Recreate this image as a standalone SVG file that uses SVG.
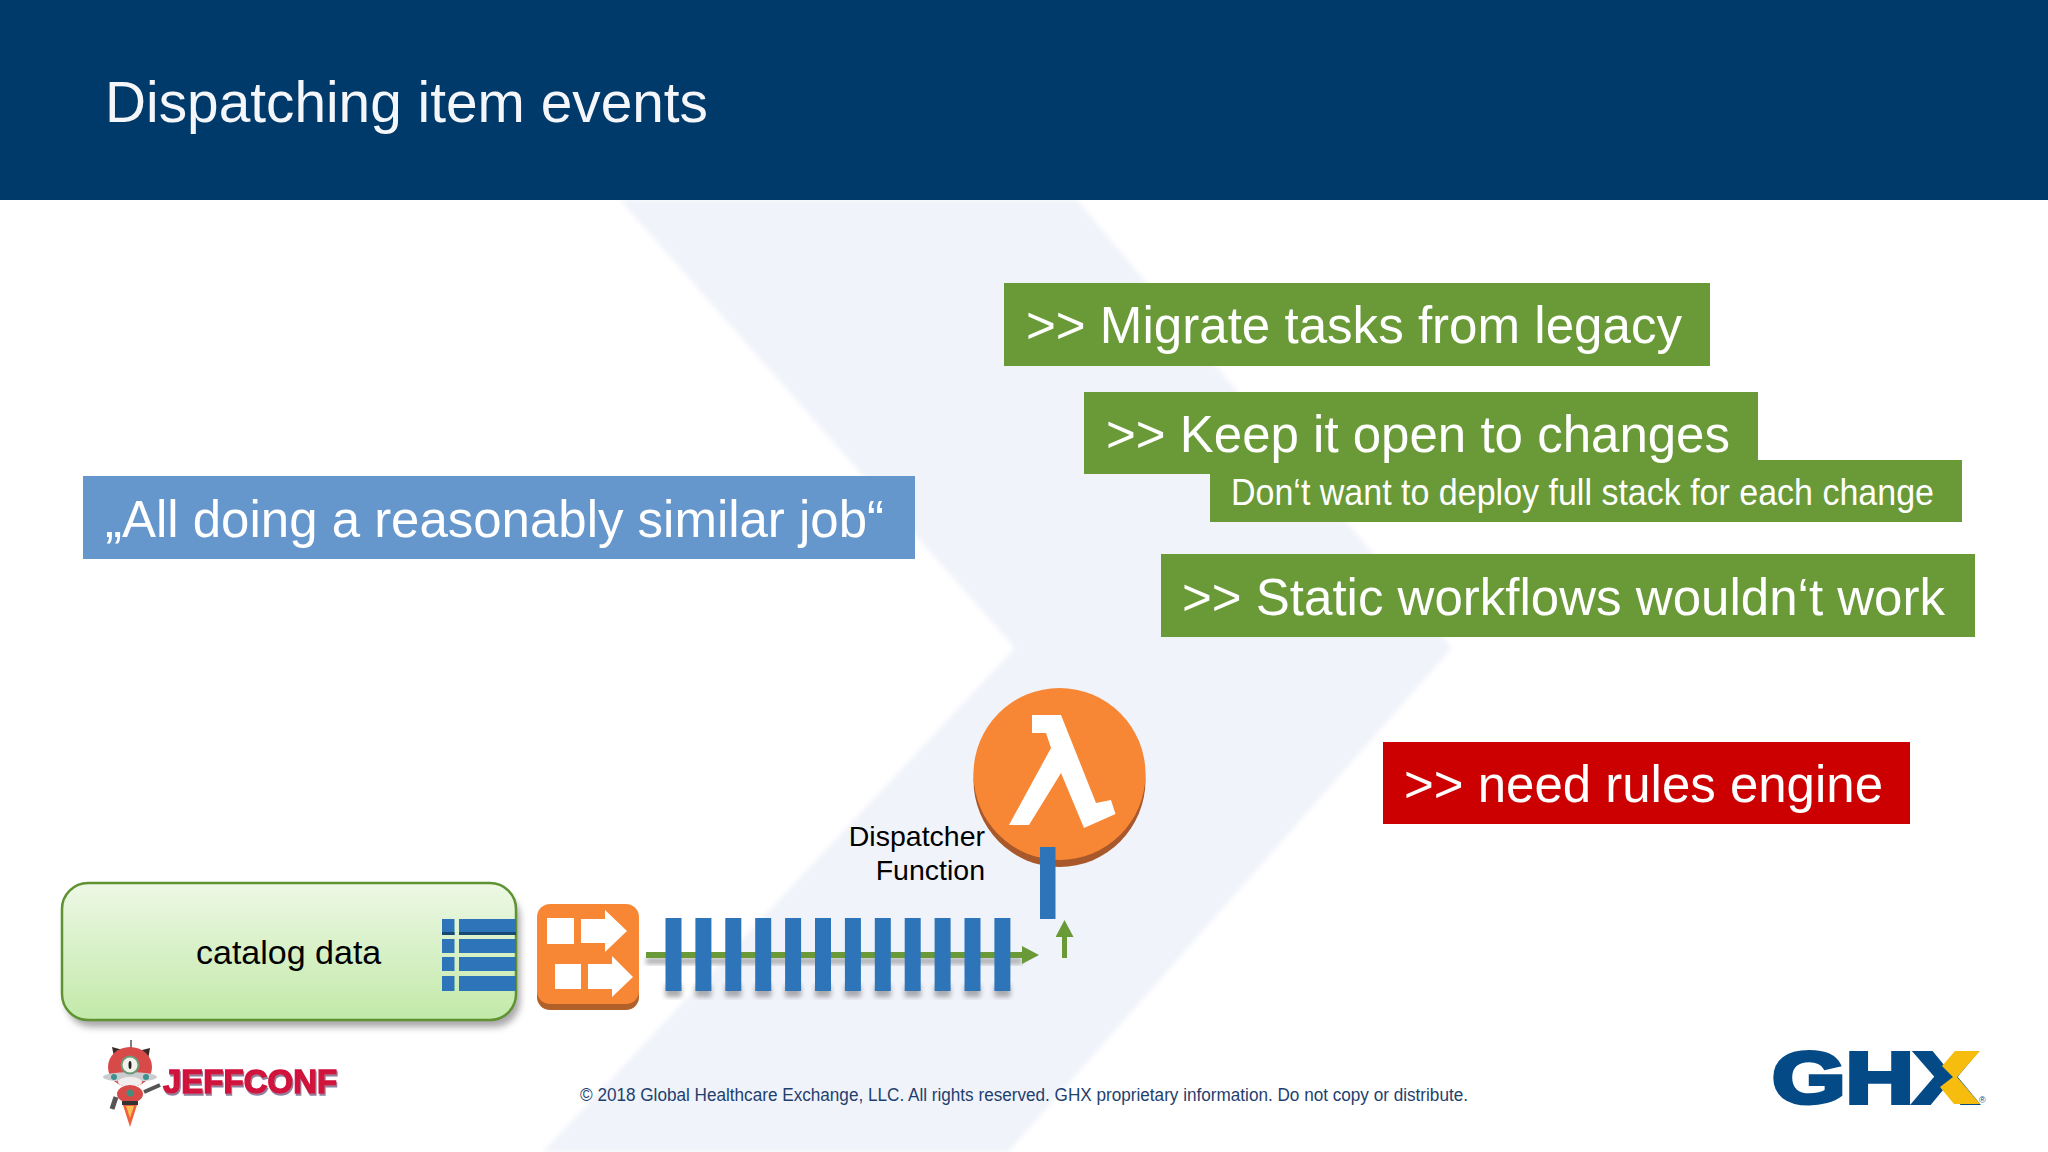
<svg xmlns="http://www.w3.org/2000/svg" width="2048" height="1152" viewBox="0 0 2048 1152">
<defs>
<style>
text{font-family:"Liberation Sans",Arial,sans-serif}
.big{font-size:52px;fill:#fff}
.bar{fill:#2e74b9}
.sh{fill:#a9a9ad;filter:url(#b3)}
.wh{fill:#fff}
.green{fill:#699a37}
.tb{fill:#2e74b9}
</style>
<filter id="b1" x="-5%" y="-5%" width="110%" height="110%"><feGaussianBlur stdDeviation="2.5"/></filter>
<filter id="b3" x="-50%" y="-20%" width="200%" height="140%"><feGaussianBlur stdDeviation="2.5"/></filter>
<filter id="b4" x="-5%" y="-10%" width="110%" height="120%"><feGaussianBlur stdDeviation="3.5"/></filter>
<filter id="jc" x="-5%" y="-20%" width="110%" height="150%"><feDropShadow dx="1" dy="2" stdDeviation="0.4" flood-color="#8f7f9f"/></filter>
<linearGradient id="cat" x1="0" y1="0" x2="0" y2="1"><stop offset="0" stop-color="#edf8e5"/><stop offset="1" stop-color="#c2e9a9"/></linearGradient>
<marker id="ah" markerUnits="userSpaceOnUse" markerWidth="18" markerHeight="18" refX="0" refY="9" orient="auto"><polygon points="0,0 17,9 0,18" fill="#699a37"/></marker>
</defs>
<rect width="2048" height="1152" fill="#fff"/>
<path id="chevron" d="M620,200 L1077,200 L1452,648 L1008,1152 L543,1152 L1015,648 Z" fill="#f0f3fa" filter="url(#b1)"/>
<g id="header"><rect width="2048" height="200" fill="#003a6a"/><text x="105" y="122" font-size="57" fill="#f4f6f9" textLength="603" lengthAdjust="spacingAndGlyphs">Dispatching item events</text></g>

<g id="note-similar"><rect x="83" y="476" width="832" height="83" fill="#6597cd"/><text class="big" x="105" y="537" textLength="779" lengthAdjust="spacingAndGlyphs">„All doing a reasonably similar job“</text></g>
<g id="note-migrate"><rect x="1004" y="283" width="706" height="83" class="green"/><text class="big" x="1026" y="343" textLength="656" lengthAdjust="spacingAndGlyphs">&gt;&gt; Migrate tasks from legacy</text></g>
<g id="note-deploy"><rect x="1210" y="460" width="752" height="62" class="green"/><text x="1231" y="505" font-size="37" fill="#fff" textLength="703" lengthAdjust="spacingAndGlyphs">Don‘t want to deploy full stack for each change</text></g>
<g id="note-keep"><rect x="1084" y="392" width="674" height="82" class="green"/><text class="big" x="1106" y="452" textLength="624" lengthAdjust="spacingAndGlyphs">&gt;&gt; Keep it open to changes</text></g>
<g id="note-static"><rect x="1161" y="554" width="814" height="83" class="green"/><text class="big" x="1182" y="615" textLength="763" lengthAdjust="spacingAndGlyphs">&gt;&gt; Static workflows wouldn‘t work</text></g>
<g id="note-rules"><rect x="1383" y="742" width="527" height="82" fill="#cc0000"/><text class="big" x="1404" y="802" textLength="479" lengthAdjust="spacingAndGlyphs">&gt;&gt; need rules engine</text></g>

<g id="catalog">
<rect x="66" y="892" width="454" height="135" rx="26" fill="#a8a6a8" filter="url(#b4)"/>
<rect x="62" y="883" width="454" height="137" rx="26" fill="url(#cat)" stroke="#5f9230" stroke-width="2.5"/>
<text x="196" y="964" font-size="34" fill="#000">catalog data</text>
<g>
<rect x="442" y="919" width="12.5" height="16" class="tb"/><rect x="459" y="919" width="57" height="16" class="tb"/>
<rect x="442" y="932" width="12.5" height="3" fill="#164a75"/><rect x="459" y="932" width="57" height="3" fill="#164a75"/>
<rect x="442" y="939" width="12.5" height="14" class="tb"/><rect x="459" y="939" width="57" height="14" class="tb"/>
<rect x="442" y="957" width="12.5" height="14" class="tb"/><rect x="459" y="957" width="57" height="14" class="tb"/>
<rect x="442" y="976" width="12.5" height="15" class="tb"/><rect x="459" y="976" width="57" height="15" class="tb"/>
</g>
</g>

<g id="dispatcher-icon">
<rect x="537" y="908" width="102" height="102" rx="13" fill="#b2602a"/>
<rect x="537" y="904" width="102" height="100" rx="13" fill="#f78735"/>
<rect x="547" y="918" width="27" height="26" class="wh"/>
<polygon points="581,919 605,919 605,910 627,931 605,952 605,943 581,943" class="wh"/>
<rect x="555" y="964" width="26" height="25" class="wh"/>
<polygon points="588,964 612,964 612,956 633,977 612,997 612,989 588,989" class="wh"/>
</g>

<g id="connectors">
<rect x="646" y="958" width="376" height="6" class="sh"/>
<line x1="646" y1="955" x2="1022" y2="955" stroke="#699a37" stroke-width="6" marker-end="url(#ah)"/>
<line x1="1064.5" y1="958" x2="1064.5" y2="937" stroke="#699a37" stroke-width="5" marker-end="url(#ah)"/>
</g>

<g id="queue">
<g class="sh">
<rect x="665.5" y="985" width="16" height="12"/><rect x="695.4" y="985" width="16" height="12"/><rect x="725.3" y="985" width="16" height="12"/><rect x="755.2" y="985" width="16" height="12"/><rect x="785.1" y="985" width="16" height="12"/><rect x="815" y="985" width="16" height="12"/><rect x="844.9" y="985" width="16" height="12"/><rect x="874.8" y="985" width="16" height="12"/><rect x="904.7" y="985" width="16" height="12"/><rect x="934.6" y="985" width="16" height="12"/><rect x="964.5" y="985" width="16" height="12"/><rect x="994.4" y="985" width="16" height="12"/>
</g>
<g class="bar">
<rect x="665.5" y="918" width="16" height="73"/><rect x="695.4" y="918" width="16" height="73"/><rect x="725.3" y="918" width="16" height="73"/><rect x="755.2" y="918" width="16" height="73"/><rect x="785.1" y="918" width="16" height="73"/><rect x="815" y="918" width="16" height="73"/><rect x="844.9" y="918" width="16" height="73"/><rect x="874.8" y="918" width="16" height="73"/><rect x="904.7" y="918" width="16" height="73"/><rect x="934.6" y="918" width="16" height="73"/><rect x="964.5" y="918" width="16" height="73"/><rect x="994.4" y="918" width="16" height="73"/>
</g>
</g>

<g id="lambda">
<ellipse cx="1059.5" cy="780" rx="86" ry="87" fill="#a8582a"/>
<ellipse cx="1059.5" cy="774" rx="86" ry="86" fill="#f78735"/>
<polygon points="1032,715 1061,715 1096,803 1111,800 1115.5,814 1084,828 1061,773 1029,825 1009,825 1051,748 1046,733 1032,733" class="wh"/>
<rect x="1040" y="847" width="15.5" height="72" class="bar"/>
</g>
<g id="dispatcher-label" font-size="28.5" fill="#000" text-anchor="end"><text x="985" y="846">Dispatcher</text><text x="985" y="880">Function</text></g>

<text id="footer" x="580" y="1101" font-size="17.5" fill="#1f3f6e" textLength="888" lengthAdjust="spacingAndGlyphs">© 2018 Global Healthcare Exchange, LLC. All rights reserved. GHX proprietary information. Do not copy or distribute.</text>

<g id="jeffconf-logo">
<line x1="131" y1="1040" x2="131" y2="1050" stroke="#555" stroke-width="1.5"/>
<polygon points="112,1047 130,1052 116,1066" fill="#3a2a2a"/><polygon points="150,1048 134,1052 147,1066" fill="#3a2a2a"/>
<ellipse cx="130" cy="1067" rx="22" ry="20" fill="#d84a48"/>
<ellipse cx="130" cy="1077" rx="27" ry="5" fill="#c9cdd0"/>
<circle cx="114" cy="1077" r="3" fill="#3f8f8f"/><circle cx="146" cy="1077" r="3" fill="#3f8f8f"/>
<ellipse cx="130" cy="1082" rx="12" ry="5" fill="#f3eeee"/>
<circle cx="130" cy="1065" r="8.5" fill="#f2f2ea" stroke="#6a9a7a" stroke-width="2"/>
<ellipse cx="130" cy="1065" rx="1.5" ry="4" fill="#222"/>
<ellipse cx="130" cy="1094" rx="13" ry="9" fill="#d84a48"/>
<circle cx="130" cy="1093" r="3.5" fill="#3f8f7f"/>
<line x1="144" y1="1092" x2="160" y2="1085" stroke="#555" stroke-width="4"/>
<line x1="116" y1="1097" x2="112" y2="1109" stroke="#555" stroke-width="5"/>
<rect x="122" y="1101" width="16" height="4" fill="#333"/>
<polygon points="123,1105 137,1105 130,1127" fill="#f0603a"/>
<polygon points="126,1106 134,1106 130,1118" fill="#f8c050"/>
<text x="163" y="1093" font-size="33" font-weight="700" fill="#d0123c" stroke="#d0123c" stroke-width="1.4" filter="url(#jc)">JEFFCONF</text>
</g>

<g id="ghx-logo">
<text x="1772" y="1103" font-size="73" font-weight="700" fill="#044a86" stroke="#044a86" stroke-width="4" textLength="205" lengthAdjust="spacingAndGlyphs">GHX</text>
<polygon points="1955,1051 1980,1051 1957,1077 1980,1104 1954,1104 1940,1087 1953,1077 1942,1066" fill="#f6bd0f"/>
<text x="1979" y="1103" font-size="9" fill="#044a86">®</text>
</g>
</svg>
